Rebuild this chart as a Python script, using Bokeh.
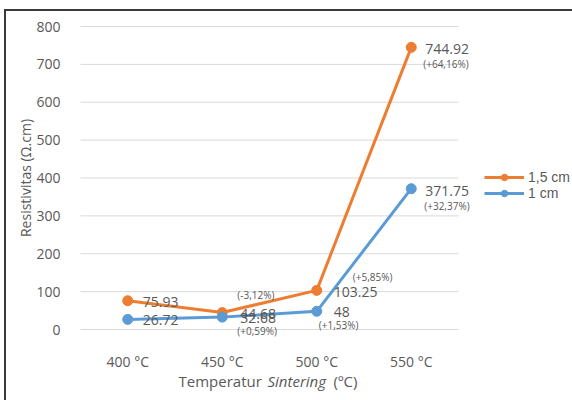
from bokeh.plotting import figure
from bokeh.models import (Range1d, ColumnDataSource, LabelSet, Label,
                          Legend, LegendItem, FixedTicker)
from bokeh.core.properties import value
from bokeh.embed import file_html
from bokeh.resources import INLINE

categories = ["400 °C", "450 °C", "500 °C", "550 °C"]
series_names = ["1,5 cm", "1 cm"]
values_15 = [75.93, 44.68, 103.25, 744.92]
values_10 = [26.72, 32.68, 48, 371.75]
pct_15 = ["", "(-3,12%)", "(+5,85%)", "(+64,16%)"]
pct_10 = ["", "(+0,59%)", "(+1,53%)", "(+32,37%)"]
y_ticks = [0, 100, 200, 300, 400, 500, 600, 700, 800]
x_title = [("Temperatur", "normal"), ("Sintering", "italic"), ("(ºC)", "normal")]

ORANGE = "#ED7D31"
BLUE = "#5B9BD5"
GRAY = "#595959"
FONT = "Open Sans"

xpos = [i + 0.5 for i in range(len(categories))]

# label offsets (screen px)
val_dx_15 = [15, 18, 17, 14]
val_dy_15 = [-1, -1, -2, -2]
val_dx_10 = [15, 18, 17, 14]
val_dy_10 = [-1, -1, -1, -2]
pct_dx_15 = [0, 15, 36, 12]
pct_dy_15 = [0, 18, 13, -17]
pct_dx_10 = [0, 15, 2, 13]
pct_dy_10 = [0, -14, -14, -17]
title_dx = [98, 187, 253]

W, H = 566, 389
X0, Y0 = 74, 318          # canvas position of data origin
PX_X, PX_Y = 94.5, 303 / 800.0

p = figure(x_range=Range1d(-X0 / PX_X, (W - X0) / PX_X),
           y_range=Range1d(-(H - Y0) / PX_Y, Y0 / PX_Y),
           frame_width=W, frame_height=H,
           min_border_left=0, min_border_right=0,
           min_border_top=0, min_border_bottom=0,
           output_backend="svg", toolbar_location=None)
p.outline_line_color = None
p.background_fill_color = "white"
p.border_fill_color = "white"
p.styles = {"margin-left": "4px", "margin-top": "9px",
            "border-top": "2px solid #3a3a3a", "border-left": "2px solid #3a3a3a"}

p.xgrid.grid_line_color = None
p.ygrid.grid_line_color = None
p.segment(x0=0, x1=len(categories), y0=y_ticks, y1=y_ticks,
          line_color="#D9D9D9", line_width=1)

p.yaxis.ticker = FixedTicker(ticks=y_ticks)
p.xaxis.ticker = FixedTicker(ticks=xpos)
p.xaxis.major_label_overrides = {x: c for x, c in zip(xpos, categories)}
p.xaxis.fixed_location = 0
p.yaxis.fixed_location = 0
p.yaxis.bounds = (y_ticks[0], y_ticks[-1])
p.xaxis.bounds = (0, len(categories))

for ax in (p.xaxis[0], p.yaxis[0]):
    ax.axis_line_color = None
    ax.major_tick_line_color = None
    ax.minor_tick_line_color = None
    ax.major_label_text_font = FONT
    ax.major_label_text_font_size = "14px"
    ax.major_label_text_color = GRAY
    ax.axis_label_text_font = FONT
    ax.axis_label_text_font_size = "14px"
    ax.axis_label_text_color = GRAY
    ax.axis_label_text_font_style = "normal"

p.yaxis.major_label_standoff = 14
p.yaxis.axis_label = "Resistivitas (Ω.cm)"
p.yaxis.axis_label_standoff = -2
p.xaxis.major_label_standoff = 16

src15 = ColumnDataSource(dict(x=xpos, y=values_15,
                              v=[f"{v:g}" for v in values_15], pct=pct_15,
                              vdx=val_dx_15, vdy=val_dy_15, pdx=pct_dx_15, pdy=pct_dy_15))
src10 = ColumnDataSource(dict(x=xpos, y=values_10,
                              v=[f"{v:g}" for v in values_10], pct=pct_10,
                              vdx=val_dx_10, vdy=val_dy_10, pdx=pct_dx_10, pdy=pct_dy_10))

l15 = p.line("x", "y", source=src15, line_color=ORANGE, line_width=3)
s15 = p.scatter("x", "y", source=src15, size=10, fill_color=ORANGE, line_color=ORANGE)
l10 = p.line("x", "y", source=src10, line_color=BLUE, line_width=3)
s10 = p.scatter("x", "y", source=src10, size=10, fill_color=BLUE, line_color=BLUE)

for src in (src15, src10):
    p.add_layout(LabelSet(x="x", y="y", text="v", source=src,
                          x_offset="vdx", y_offset="vdy",
                          text_font=value(FONT), text_font_size="14px", text_color=GRAY,
                          text_align="left", text_baseline="middle"))
    p.add_layout(LabelSet(x="x", y="y", text="pct", source=src,
                          x_offset="pdx", y_offset="pdy",
                          text_font=value(FONT), text_font_size="10px", text_color=GRAY,
                          text_align="left", text_baseline="middle"))

legend = Legend(items=[LegendItem(label=series_names[0], renderers=[l15, s15]),
                       LegendItem(label=series_names[1], renderers=[l10, s10])],
                location=(478, 199), orientation="vertical",
                glyph_width=40, glyph_height=16, label_height=16, label_standoff=4,
                spacing=0, padding=0, margin=0,
                label_text_font="Liberation Sans", label_text_font_size="14px",
                label_text_color=GRAY,
                background_fill_alpha=0, border_line_color=None)
p.add_layout(legend, "center")

# x axis title with an italic word
for (txt, style), dx in zip(x_title, title_dx):
    p.add_layout(Label(x=0, y=0, x_offset=dx, y_offset=-51, text=txt,
                       text_font=FONT, text_font_size="15px", text_color=GRAY,
                       text_font_style=style, text_align="left", text_baseline="middle"))

open("out.html", "w").write(file_html(p, INLINE))
